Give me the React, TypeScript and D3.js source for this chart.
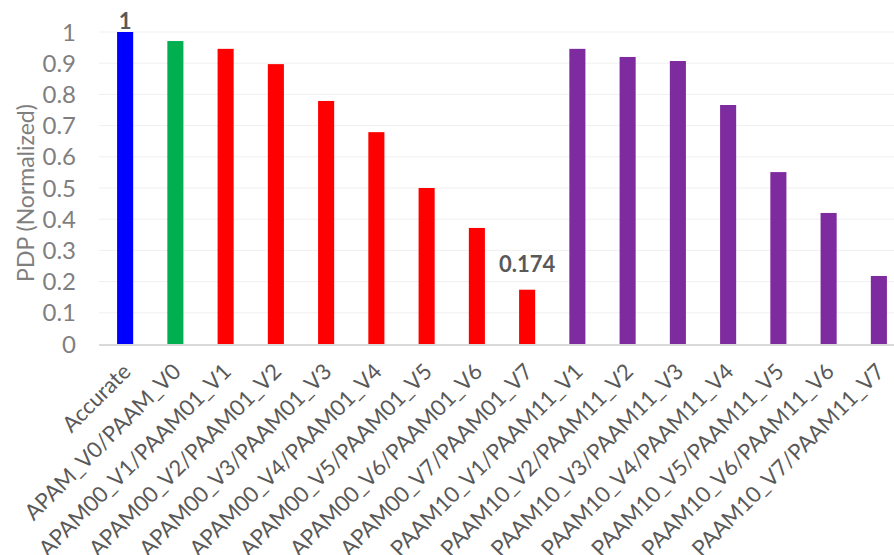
import React from "react";
import * as d3 from "d3";

const categories = [
  "Accurate",
  "APAM_V0/PAAM_V0",
  "APAM00_V1/PAAM01_V1",
  "APAM00_V2/PAAM01_V2",
  "APAM00_V3/PAAM01_V3",
  "APAM00_V4/PAAM01_V4",
  "APAM00_V5/PAAM01_V5",
  "APAM00_V6/PAAM01_V6",
  "APAM00_V7/PAAM01_V7",
  "PAAM10_V1/PAAM11_V1",
  "PAAM10_V2/PAAM11_V2",
  "PAAM10_V3/PAAM11_V3",
  "PAAM10_V4/PAAM11_V4",
  "PAAM10_V5/PAAM11_V5",
  "PAAM10_V6/PAAM11_V6",
  "PAAM10_V7/PAAM11_V7",
];

const values = [1, 0.971, 0.946, 0.897, 0.779, 0.679, 0.5, 0.372, 0.174, 0.946, 0.92, 0.907, 0.766, 0.551, 0.42, 0.218];

const groups = ["accurate", "v0", "paam01", "paam01", "paam01", "paam01", "paam01", "paam01", "paam01", "paam11", "paam11", "paam11", "paam11", "paam11", "paam11", "paam11"];

const groupColors: Record<string, string> = {
  accurate: "#0000FF",
  v0: "#00B050",
  paam01: "#FF0000",
  paam11: "#7F2BA0",
};

const labelled = ["1", "", "", "", "", "", "", "", "0.174", "", "", "", "", "", "", ""];

const yTicks = [0, 0.1, 0.2, 0.3, 0.4, 0.5, 0.6, 0.7, 0.8, 0.9, 1];

const yTitle = "PDP (Normalized)";

const W = 894;
const H = 555;
const FONT = "Lato, 'Open Sans', sans-serif";

export default function App() {
  const x = d3
    .scaleBand<string>()
    .domain(categories)
    .range([100, 904])
    .paddingInner(0.68)
    .paddingOuter(0.34);
  const y = d3.scaleLinear().domain([0, 1]).range([344, 32]);

  return (
    <svg
      width={W}
      height={H}
      viewBox={`0 0 ${W} ${H}`}
      style={{ position: "absolute", left: 0, top: 0, background: "#fff" }}
    >
      <rect x={0} y={0} width={W} height={H} fill="#fff" />
      {yTicks
        .filter((t) => t > 0)
        .map((t) => (
          <line
            key={"g" + t}
            x1={99}
            x2={W}
            y1={y(t)}
            y2={y(t)}
            stroke="#F0F0F0"
            strokeWidth={1}
          />
        ))}
      {categories.map((c, i) => (
        <rect
          key={c}
          x={x(c)}
          y={y(values[i])}
          width={x.bandwidth()}
          height={y(0) - y(values[i])}
          fill={groupColors[groups[i]]}
        />
      ))}
      <line x1={99} x2={W} y1={y(0) + 1} y2={y(0) + 1} stroke="#D9D9D9" strokeWidth={2} />
      {yTicks.map((t) => (
        <text
          key={"t" + t}
          x={76}
          y={y(t)}
          dy="0.36em"
          textAnchor="end"
          fontFamily={FONT}
          fontSize={24}
          fill="#7F7F7F"
        >
          {d3.format("~g")(t)}
        </text>
      ))}
      <text
        transform={`translate(34, 193) rotate(-90)`}
        textAnchor="middle"
        fontFamily={FONT}
        fontSize={23}
        fill="#7F7F7F"
      >
        {yTitle}
      </text>
      {categories.map((c) => {
        const cx = (x(c) as number) + x.bandwidth() / 2;
        return (
          <text
            key={"c" + c}
            transform={`translate(${cx + 7}, 373) rotate(-45)`}
            textAnchor="end"
            fontFamily={FONT}
            fontSize={22}
            fill="#595959"
          >
            {c}
          </text>
        );
      })}
      {categories.map((c, i) =>
        labelled[i] ? (
          <text
            key={"d" + c}
            x={(x(c) as number) + x.bandwidth() / 2}
            y={i === 0 ? 29 : y(values[i]) - 18}
            textAnchor="middle"
            fontFamily={FONT}
            fontWeight="bold"
            fontSize={22}
            fill="#595959"
          >
            {labelled[i]}
          </text>
        ) : null
      )}
    </svg>
  );
}
